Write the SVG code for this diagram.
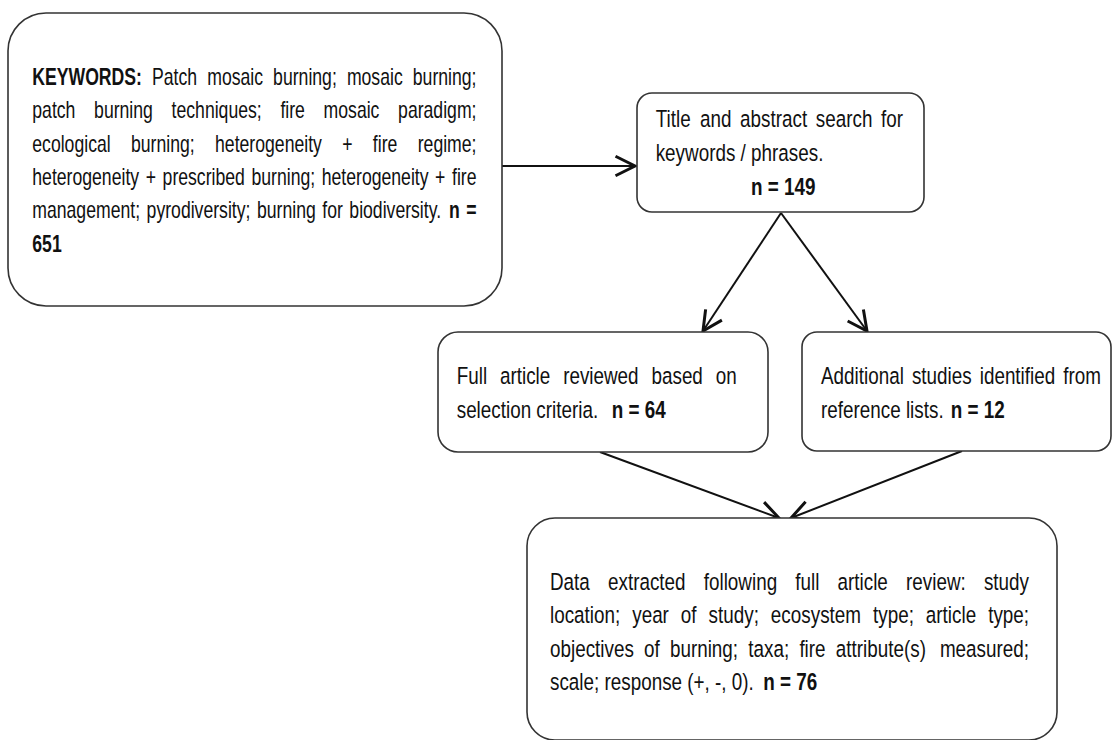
<svg xmlns="http://www.w3.org/2000/svg" width="1112" height="740" viewBox="0 0 1112 740">
<style>
  .box { fill: #ffffff; stroke: #333333; stroke-width: 1.6; }
  .t { font-family: "Liberation Sans", Arial, sans-serif; font-size: 24.5px; fill: #111111; }
  .s { font-size: 23px; }
  .b { font-weight: bold; }
  .edge { fill: none; stroke: #111111; stroke-width: 2; }
</style>
<defs>
  <marker id="arr" markerUnits="userSpaceOnUse" markerWidth="30" markerHeight="30" viewBox="-16 -10 20 20" refX="0" refY="0" orient="auto">
    <path d="M-13,-6.5 L0,0 L-13,6.5" fill="none" stroke="#111111" stroke-width="2"/>
  </marker>
</defs>
<rect width="1112" height="740" fill="#ffffff"/>

<g id="connectors">
  <line class="edge" x1="502" y1="166" x2="635" y2="166" marker-end="url(#arr)"/>
  <line class="edge" x1="781" y1="213" x2="703" y2="331" marker-end="url(#arr)"/>
  <line class="edge" x1="781" y1="213" x2="867" y2="331" marker-end="url(#arr)"/>
  <line class="edge" x1="600" y1="452" x2="779" y2="518" marker-end="url(#arr)"/>
  <line class="edge" x1="962" y1="451" x2="791" y2="518" marker-end="url(#arr)"/>
</g>

<g id="keywords">
  <rect class="box" x="8" y="13" width="494" height="293" rx="38" ry="38"/>
  <g transform="scale(0.7665 1)">
    <text class="t s" y="85"><tspan x="42.14" class="b">KEYWORDS:</tspan><tspan x="198.40">Patch</tspan><tspan x="270.35">mosaic</tspan><tspan x="356.32">burning;</tspan><tspan x="452.56">mosaic</tspan><tspan x="538.54">burning;</tspan></text>
    <text class="t s" y="118.3"><tspan x="42.14">patch</tspan><tspan x="122.77">burning</tspan><tspan x="223.85">techniques;</tspan><tspan x="365.84">fire</tspan><tspan x="422.17">mosaic</tspan><tspan x="519.37">paradigm;</tspan></text>
    <text class="t s" y="151.7"><tspan x="42.14">ecological</tspan><tspan x="170.93">burning;</tspan><tspan x="280.57">heterogeneity</tspan><tspan x="446.50">+</tspan><tspan x="486.47">fire</tspan><tspan x="544.96">regime;</tspan></text>
    <text class="t s" y="185"><tspan x="42.14">heterogeneity</tspan><tspan x="190.10">+</tspan><tspan x="212.11">prescribed</tspan><tspan x="328.05">burning;</tspan><tspan x="419.73">heterogeneity</tspan><tspan x="567.68">+</tspan><tspan x="589.69">fire</tspan></text>
    <text class="t s" y="218.3"><tspan x="42.14">management;</tspan><tspan x="191.26">pyrodiversity;</tspan><tspan x="335.22">burning</tspan><tspan x="420.43">for</tspan><tspan x="455.76">biodiversity.</tspan><tspan x="585.67" class="b">n</tspan><tspan x="608.22" class="b">=</tspan></text>
    <text class="t s b" x="42.14" y="251.7">651</text>
  </g>
</g>

<g id="title-abstract">
  <rect class="box" x="637" y="93" width="287" height="119" rx="15" ry="15"/>
  <g transform="scale(0.7698 1)">
    <text class="t" y="127"><tspan x="851.78">Title</tspan><tspan x="909.28">and</tspan><tspan x="961.35">abstract</tspan><tspan x="1059.72">search</tspan><tspan x="1144.45">for</tspan></text>
    <text class="t" x="851.78" y="161">keywords / phrases.</text>
    <text class="t b" x="975.58" y="195">n = 149</text>
  </g>
</g>

<g id="full-article">
  <rect class="box" x="438" y="332" width="330" height="120" rx="20" ry="20"/>
  <g transform="scale(0.7698 1)">
    <text class="t" y="384"><tspan x="593.27">Full</tspan><tspan x="649.47">article</tspan><tspan x="731.54">reviewed</tspan><tspan x="846.30">based</tspan><tspan x="929.76">on</tspan></text>
    <text class="t" y="418.3"><tspan x="593.27">selection criteria.</tspan><tspan x="794.62" class="b">n = 64</tspan></text>
  </g>
</g>

<g id="additional">
  <rect class="box" x="802" y="332" width="309" height="119" rx="15" ry="15"/>
  <g transform="scale(0.7698 1)">
    <text class="t" y="384"><tspan x="1066.51">Additional</tspan><tspan x="1184.58">studies</tspan><tspan x="1272.70">identified</tspan><tspan x="1381.24">from</tspan></text>
    <text class="t" y="418.3"><tspan x="1066.51">reference lists.</tspan><tspan x="1235.00" class="b">n = 12</tspan></text>
  </g>
</g>

<g id="data-extracted">
  <rect class="box" x="527" y="518" width="530" height="222" rx="28" ry="28"/>
  <g transform="scale(0.7698 1)">
    <text class="t" y="590"><tspan x="714.47">Data</tspan><tspan x="789.82">extracted</tspan><tspan x="914.19">following</tspan><tspan x="1033.10">full</tspan><tspan x="1088.01">article</tspan><tspan x="1176.96">review:</tspan><tspan x="1278.15">study</tspan></text>
    <text class="t" y="623.5"><tspan x="714.47">location;</tspan><tspan x="821.27">year</tspan><tspan x="884.48">of</tspan><tspan x="920.48">study;</tspan><tspan x="1001.40">ecosystem</tspan><tspan x="1134.05">type;</tspan><tspan x="1202.73">article</tspan><tspan x="1283.64">type;</tspan></text>
    <text class="t" y="657"><tspan x="714.47">objectives</tspan><tspan x="836.57">of</tspan><tspan x="870.27">burning;</tspan><tspan x="972.05">taxa;</tspan><tspan x="1038.43">fire</tspan><tspan x="1085.72">attribute(s)</tspan><tspan x="1220.97">measured;</tspan></text>
    <text class="t" y="690.5"><tspan x="714.47">scale; response (+, -, 0).</tspan><tspan x="991.56" class="b">n = 76</tspan></text>
  </g>
</g>
</svg>
